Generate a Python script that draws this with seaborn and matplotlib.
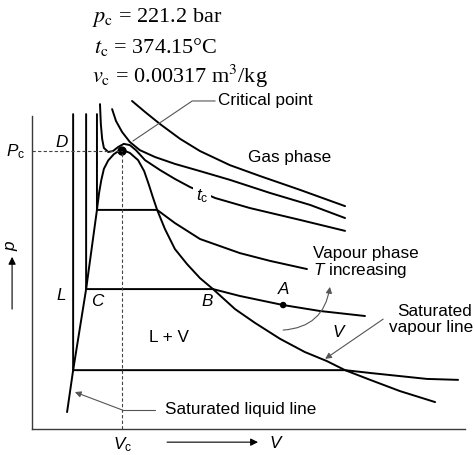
import matplotlib
matplotlib.use("Agg")
import matplotlib.pyplot as plt
import seaborn as sns

sns.set_theme(style="white")
plt.rcParams["font.family"] = ["Liberation Sans", "DejaVu Sans"]
plt.rcParams["mathtext.fontset"] = "custom"
plt.rcParams["mathtext.rm"] = "Liberation Sans"
plt.rcParams["mathtext.it"] = "Liberation Sans:italic"

# Critical constants of water
pc_bar = 221.2
tc_degC = 374.15
vc_m3kg = 0.00317

# Schematic p-v plane (arbitrary units, 0..10 on both axes)
v_crit, p_crit = 2.08, 8.88

# Saturation dome: saturated liquid line -> critical point -> saturated vapour line
dome_v = [0.81, 0.95, 1.25, 1.50, 1.55, 1.60, 1.66, 1.76, 1.89, 1.98, 2.08,
          2.17, 2.26, 2.45, 2.59, 2.70, 2.79, 2.89, 3.07, 3.30, 3.58, 3.88,
          4.18, 4.69, 5.15, 5.73, 6.30, 6.81, 7.23, 7.81, 8.50, 9.31]
dome_p = [0.54, 1.88, 4.47, 7.00, 7.55, 7.95, 8.31, 8.58, 8.78, 8.86, 8.88,
          8.87, 8.82, 8.59, 8.24, 7.80, 7.41, 7.00, 6.39, 5.75, 5.27, 4.82,
          4.47, 3.83, 3.39, 2.88, 2.46, 2.17, 1.88, 1.57, 1.21, 0.86]

# Sub-critical isotherms: compressed liquid, two-phase plateau, superheated vapour
iso_low_v = [0.95, 0.95, 7.23, 7.81, 8.50, 9.12, 9.84]
iso_low_p = [10.06, 1.88, 1.88, 1.79, 1.69, 1.60, 1.57]

iso_mid_v = [1.25, 1.25, 4.18, 4.80, 5.80, 6.65, 7.69]
iso_mid_p = [10.06, 4.47, 4.47, 4.25, 3.96, 3.77, 3.61]

iso_high_v = [1.50, 1.50, 2.89, 3.30, 3.88, 4.80, 5.50, 6.35]
iso_high_p = [10.06, 7.00, 7.00, 6.58, 6.07, 5.62, 5.37, 5.11]

# Critical isotherm t_c
iso_crit_v = [1.57, 1.59, 1.62, 1.66, 1.76, 1.87, 1.99, 2.12, 2.26, 2.40,
              2.61, 2.96, 3.30, 3.65, 4.23, 5.03, 6.19, 7.23]
iso_crit_p = [10.38, 9.74, 9.27, 8.98, 8.85, 8.88, 9.01, 9.11, 9.07, 8.91,
              8.59, 8.27, 7.99, 7.73, 7.38, 7.06, 6.68, 6.33]

# Super-critical isotherms (gas phase)
iso_gas1_v = [1.85, 1.94, 2.08, 2.26, 2.49, 2.84, 3.30, 3.88, 4.57, 5.50, 6.42, 7.23]
iso_gas1_p = [10.22, 9.84, 9.49, 9.17, 8.91, 8.69, 8.47, 8.24, 7.96, 7.54, 7.16, 6.74]

iso_gas2_v = [2.31, 2.61, 2.96, 3.42, 3.88, 4.57, 5.27, 6.19, 7.23]
iso_gas2_p = [10.48, 10.13, 9.74, 9.27, 8.88, 8.43, 8.08, 7.64, 7.12]

# State point A on the superheated part of the middle isotherm
point_a = (5.80, 3.96)

W, H = 475, 456
fig = plt.figure(figsize=(W / 100, H / 100), dpi=100)
ax = fig.add_axes([32 / W, 26 / H, 433 / W, 313 / H])
ax.set_xlim(0, 10)
ax.set_ylim(0, 10)
ax.set_xticks([])
ax.set_yticks([])
sns.despine(ax=ax)
for side in ("left", "bottom"):
    ax.spines[side].set_color("#3a3a3a")
    ax.spines[side].set_linewidth(1.0)


def curve(v, p, **kw):
    kw.setdefault("color", "black")
    kw.setdefault("linewidth", 1.4)
    sns.lineplot(x=v, y=p, sort=False, estimator=None, ax=ax, **kw)


curve(dome_v, dome_p)
curve(iso_low_v, iso_low_p)
curve(iso_mid_v, iso_mid_p)
curve(iso_high_v, iso_high_p)
curve(iso_crit_v, iso_crit_p)
curve(iso_gas1_v, iso_gas1_p)
curve(iso_gas2_v, iso_gas2_p)

# Critical pressure / volume guides
curve([0, v_crit], [p_crit, p_crit], color="#444444", linewidth=0.8, linestyle=(0, (3, 2)))
curve([v_crit, v_crit], [0, p_crit], color="#444444", linewidth=0.8, linestyle=(0, (3, 2)))

# Leader line to the critical point label
curve([2.33, 3.70, 4.23], [9.20, 10.48, 10.48], color="#555555", linewidth=0.8)
# Leader line to the saturated liquid label
curve([2.84, 2.08], [0.61, 0.61], color="#555555", linewidth=0.8)

sns.scatterplot(x=[v_crit], y=[p_crit], s=45, color="black", edgecolor="none", ax=ax)
sns.scatterplot(x=[point_a[0]], y=[point_a[1]], s=22, color="black", edgecolor="none", ax=ax)

for ln in ax.lines:
    ln.set_clip_on(False)
for coll in ax.collections:
    coll.set_clip_on(False)

arrow_gray = dict(arrowstyle="-|>", color="#555555", lw=0.8, mutation_scale=9,
                  shrinkA=0, shrinkB=0)
ax.annotate("", xy=(0.99, 1.18), xytext=(2.08, 0.61), arrowprops=arrow_gray,
            annotation_clip=False)
ax.annotate("", xy=(6.77, 2.24), xytext=(8.11, 3.51), arrowprops=arrow_gray,
            annotation_clip=False)
ax.annotate("", xy=(6.88, 4.54), xytext=(5.80, 3.16),
            arrowprops=dict(arrow_gray, connectionstyle="arc3,rad=0.4"),
            annotation_clip=False)
arrow_black = dict(arrowstyle="-|>", color="black", lw=0.8, mutation_scale=11,
                   shrinkA=0, shrinkB=0)
ax.annotate("", xy=(5.22, -0.42), xytext=(3.12, -0.42), arrowprops=arrow_black,
            annotation_clip=False)
ax.annotate("", xy=(-0.46, 5.50), xytext=(-0.46, 3.83), arrowprops=arrow_black,
            annotation_clip=False)

fs = 12.3
txt = dict(fontsize=fs, color="black", va="center")
ax.text(4.30, 10.54, "Critical point", ha="left", **txt)
ax.text(5.94, 8.72, "Gas phase", ha="center", **txt)
ax.text(3.93, 7.48, r"$t_{\rm c}$", ha="center",
        bbox=dict(boxstyle="square,pad=0.15", fc="white", ec="none"), **txt)
ax.text(6.49, 5.65, "Vapour phase", ha="left", **txt)
ax.text(6.49, 5.08, r"$T$ increasing", ha="left", **txt)
ax.text(3.16, 2.94, "L + V", ha="center", **txt)
ax.text(8.43, 3.80, "Saturated", ha="left", **txt)
ax.text(8.24, 3.26, "vapour line", ha="left", **txt)
ax.text(3.07, 0.64, "Saturated liquid line", ha="left", **txt)

for lbl, v, p in [("A", 5.80, 4.50), ("B", 4.04, 4.12), ("C", 1.50, 4.12),
                  ("D", 0.69, 9.17), ("L", 0.67, 4.31), ("V", 7.07, 3.10),
                  ("V", 5.61, -0.44)]:
    ax.text(v, p, lbl, ha="center", style="italic", **txt)

ax.text(-0.37, 8.88, r"$P_{\rm c}$", ha="center", **txt)
ax.text(2.08, -0.48, r"$V_{\rm c}$", ha="center", **txt)
ax.text(-0.46, 5.91, r"$p$", ha="center", rotation=90, **txt)

serif = dict(fontsize=16, family="Liberation Serif", math_fontfamily="stix",
             ha="left", va="baseline", color="black")
fig.text(92 / W, 1 - 22 / H, r"$p_{\rm c}$ = %.1f bar" % pc_bar, **serif)
fig.text(94 / W, 1 - 53 / H, r"$t_{\rm c}$ = %.2f°C" % tc_degC, **serif)
fig.text(92 / W, 1 - 83 / H, r"$v_{\rm c}$ = %.5f m$^3$/kg" % vc_m3kg, **serif)

fig.savefig("out.png", dpi=100)
